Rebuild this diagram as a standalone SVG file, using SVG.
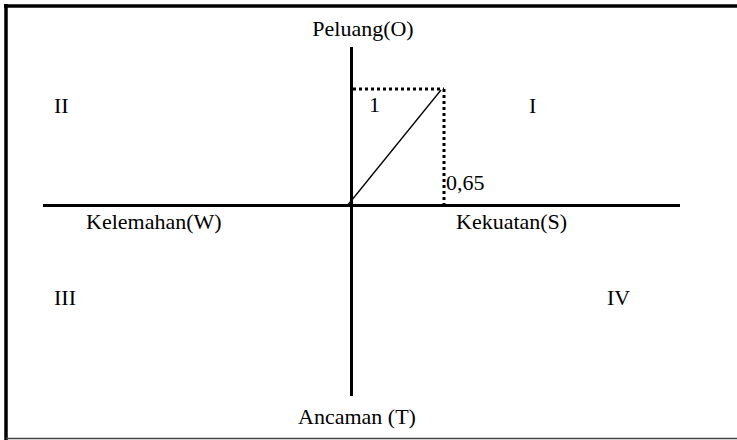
<svg xmlns="http://www.w3.org/2000/svg" width="737" height="440" viewBox="0 0 737 440">
<style>
text{font-family:"Liberation Serif","Times New Roman",serif;font-size:22px;fill:#000}
.axis{stroke:#000;stroke-width:3;fill:none}
.dot{stroke:#000;stroke-width:3;stroke-dasharray:3 3;fill:none}
</style>
<rect width="737" height="440" fill="#fff"/>
<g id="frame">
<line x1="4" y1="6" x2="737" y2="6" stroke="#000" stroke-width="3.5"/>
<line x1="6" y1="4" x2="6" y2="440" stroke="#000" stroke-width="3.5"/>
<line x1="6" y1="438.5" x2="737" y2="438.5" stroke="#444" stroke-width="1.5"/>
</g>
<g id="connectors">
<line class="axis" x1="351.5" y1="47" x2="351.5" y2="396"/>
<line class="axis" x1="43" y1="205.5" x2="680" y2="205.5"/>
<line class="dot" x1="353" y1="89" x2="444" y2="89"/>
<line class="dot" x1="444" y1="89" x2="444" y2="205"/>
<line x1="347" y1="206" x2="441" y2="90" stroke="#000" stroke-width="1.3"/>
</g>
<g id="label-O"><text x="363" y="36" text-anchor="middle">Peluang(O)</text></g>
<g id="label-T"><text x="357" y="424" text-anchor="middle">Ancaman (T)</text></g>
<g id="label-W"><text x="86" y="229">Kelemahan(W)</text></g>
<g id="label-S"><text x="456" y="229">Kekuatan(S)</text></g>
<g id="label-1"><text x="369" y="112">1</text></g>
<g id="label-065"><text x="446" y="190">0,65</text></g>
<g id="quad-I"><text x="529" y="113">I</text></g>
<g id="quad-II"><text x="54" y="113">II</text></g>
<g id="quad-III"><text x="54" y="305">III</text></g>
<g id="quad-IV"><text x="607" y="305">IV</text></g>
</svg>
